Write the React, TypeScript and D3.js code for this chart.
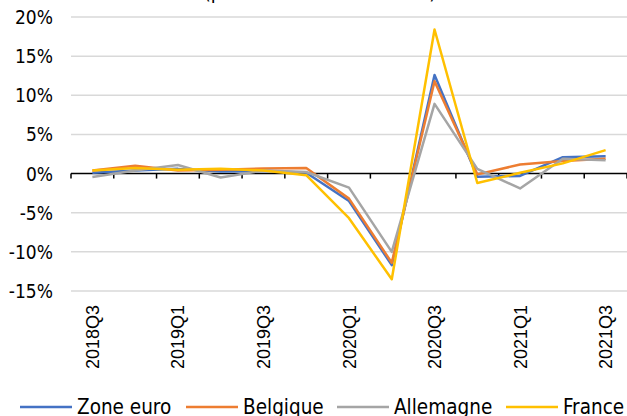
import { line, range, scaleBand, scaleLinear } from "d3";

const quarters = [
  "2018Q3", "2018Q4", "2019Q1", "2019Q2", "2019Q3", "2019Q4",
  "2020Q1", "2020Q2", "2020Q3", "2020Q4", "2021Q1", "2021Q2", "2021Q3"
];
const zoneEuro = [0.1, 0.4, 0.6, 0.25, 0.35, 0.1, -3.5, -11.7, 12.6, -0.4, -0.3, 2.1, 2.2];
const belgique = [0.4, 1.0, 0.4, 0.5, 0.65, 0.7, -3.2, -11.4, 11.8, -0.1, 1.15, 1.6, 1.9];
const allemagne = [-0.45, 0.4, 1.1, -0.5, 0.4, 0.2, -1.8, -10.0, 8.9, 0.6, -1.9, 1.9, 1.7];
const france = [0.4, 0.7, 0.5, 0.6, 0.4, -0.2, -5.7, -13.5, 18.4, -1.2, 0.1, 1.3, 3.0];
const yTicks = [20, 15, 10, 5, 0, -5, -10, -15];
const title = "(par trimestre en volume)";

const series = [
  { name: "Zone euro", values: zoneEuro, color: "#4472C4" },
  { name: "Belgique", values: belgique, color: "#ED7D31" },
  { name: "Allemagne", values: allemagne, color: "#A5A5A5" },
  { name: "France", values: france, color: "#FFC000" }
];

const width = 627;
const height = 416;
const plot = { left: 71, right: 627, top: 17, bottom: 291 };
const labelFont = "'DejaVu Sans Condensed', 'DejaVu Sans', sans-serif";

export default function App() {
  const x = scaleBand<string>().domain(quarters).range([plot.left, plot.right]);
  const y = scaleLinear().domain([-15, 20]).range([plot.bottom, plot.top]);
  const center = (q: string) => (x(q) ?? 0) + x.bandwidth() / 2;
  const path = line<number>()
    .x((_, i) => center(quarters[i]))
    .y((d) => y(d));

  const legendX = [20, 186, 337, 506];

  return (
    <svg
      width={width}
      height={height}
      style={{ position: "absolute", left: 0, top: 0, background: "#fff" }}
    >
      {/* title sits mostly above the frame, as in the source */}
      <text x={320} y={-1.5} textAnchor="middle" fontFamily={labelFont} fontSize={20} fill="#000">
        {title}
      </text>

      {yTicks.map((t) => (
        <g key={t}>
          {t !== 0 && (
            <line x1={plot.left} x2={plot.right} y1={y(t)} y2={y(t)} stroke="#d9d9d9" strokeWidth={1.5} />
          )}
          <text
            x={53}
            y={y(t) + 7}
            textAnchor="end"
            fontFamily={labelFont}
            fontSize={19}
            fill="#000"
          >
            {`${t}%`}
          </text>
        </g>
      ))}

      <line x1={plot.left} x2={plot.right} y1={y(0)} y2={y(0)} stroke="#000" strokeWidth={1.5} />
      {range(quarters.length + 1).map((i) => {
        const tx = plot.left + i * x.step();
        return <line key={i} x1={tx} x2={tx} y1={y(0)} y2={y(0) + 5} stroke="#000" strokeWidth={1.5} />;
      })}

      {series.map((s) => (
        <path
          key={s.name}
          d={path(s.values) ?? ""}
          fill="none"
          stroke={s.color}
          strokeWidth={2.5}
          strokeLinejoin="round"
        />
      ))}

      {quarters.map((q, i) =>
        i % 2 === 0 ? (
          <text
            key={q}
            transform={`translate(${center(q) + 6.5}, 305) rotate(-90)`}
            textAnchor="end"
            fontFamily="'Liberation Sans', Arial, sans-serif"
            fontSize={18}
            fill="#000"
          >
            {q}
          </text>
        ) : null
      )}

      {series.map((s, i) => (
        <g key={s.name} transform={`translate(${legendX[i]}, 407)`}>
          <line x1={0} x2={52} y1={0} y2={0} stroke={s.color} strokeWidth={2.5} />
          <text x={57} y={7} fontFamily={labelFont} fontSize={20.5} fill="#000">
            {s.name}
          </text>
        </g>
      ))}
    </svg>
  );
}
